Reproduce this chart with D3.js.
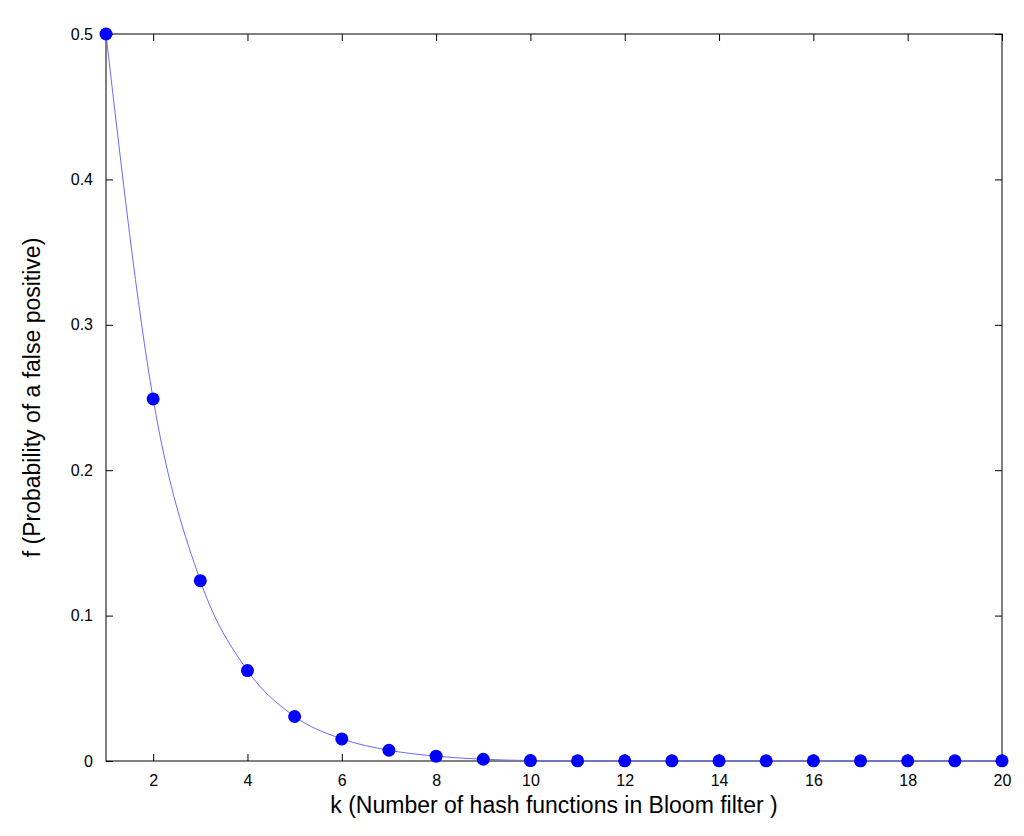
<!DOCTYPE html>
<html><head><meta charset="utf-8">
<script src="https://cdn.jsdelivr.net/npm/d3@7"></script>
<style>body{margin:0;background:#fff}svg{display:block}</style>
</head><body>
<svg id="c" width="1024" height="836"></svg>
<script>
const kValues = [1,2,3,4,5,6,7,8,9,10,11,12,13,14,15,16,17,18,19,20];
const fValues = [0.5,0.249,0.124,0.0622,0.0306,0.0152,0.0074,0.0033,0.0012,0.0003,0.0001,0.0001,0.0001,0.0001,0.0001,0.0001,0.0001,0.0001,0.0001,0.0001];
const xTicks = [2,4,6,8,10,12,14,16,18,20];
const yTicks = [0,0.1,0.2,0.3,0.4,0.5];
const xLabel = "k (Number of hash functions in Bloom filter )";
const yLabel = "f (Probability of a false positive)";

const svg = d3.select("#c");
const L=106,R=1002,T=34,B=761;
const x = d3.scaleLinear().domain([1,20]).range([L,R]);
const y = d3.scaleLinear().domain([0,0.5]).range([B,T]);
const font = "Liberation Sans, Arial, sans-serif";

svg.append("rect").attr("x",L).attr("y",T).attr("width",R-L).attr("height",B-T)
  .attr("fill","none").attr("stroke","#000").attr("stroke-width",1);

const tl=7;
const gx = svg.append("g").attr("transform",`translate(0,${B})`)
  .call(d3.axisBottom(x).tickValues(xTicks).tickSize(-tl).tickPadding(tl+7).tickFormat(d3.format("d")));
const gxt = svg.append("g").attr("transform",`translate(0,${T})`)
  .call(d3.axisTop(x).tickValues(xTicks).tickSize(-tl).tickFormat(""));
const gy = svg.append("g").attr("transform",`translate(${L},0)`)
  .call(d3.axisLeft(y).tickValues(yTicks).tickSize(-tl).tickPadding(tl+6).tickFormat(d=>d===0?"0":d3.format(".1f")(d)));
const gyr = svg.append("g").attr("transform",`translate(${R},0)`)
  .call(d3.axisRight(y).tickValues(yTicks).tickSize(-tl).tickFormat(""));
[gx,gxt,gy,gyr].forEach(g=>{g.select(".domain").remove();
  g.selectAll("text").attr("font-family",font).attr("font-size",16).attr("fill","#000");
  g.selectAll("line").attr("stroke","#000");});

const pts = kValues.map((k,i)=>[k,fValues[i]]);
svg.append("path").datum(pts)
  .attr("d",d3.line().x(d=>x(d[0])).y(d=>y(d[1])).curve(d3.curveMonotoneX))
  .attr("fill","none").attr("stroke","#6a6aff").attr("stroke-width",1);
svg.selectAll("circle.p").data(pts).enter().append("circle")
  .attr("cx",d=>x(d[0])).attr("cy",d=>y(d[1])).attr("r",6.5).attr("fill","#0000ff");

svg.append("text").attr("x",(L+R)/2).attr("y",813).attr("text-anchor","middle")
  .attr("font-family",font).attr("font-size",23).text(xLabel);
svg.append("text").attr("transform",`translate(40,${(T+B)/2}) rotate(-90)`).attr("text-anchor","middle")
  .attr("font-family",font).attr("font-size",23).text(yLabel);
</script>
</body></html>
